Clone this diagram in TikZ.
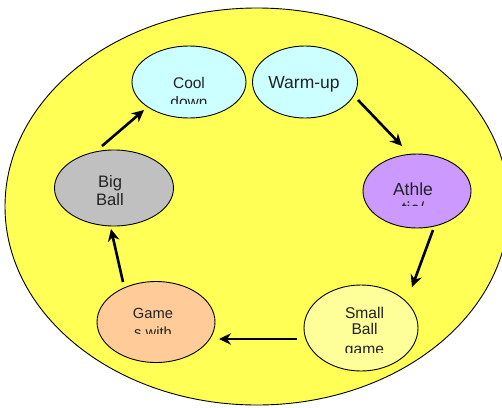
\documentclass[tikz,border=0pt]{standalone}
\usepackage{fontspec}
\setmainfont{Liberation Sans}
\usetikzlibrary{shapes.geometric,arrows.meta}
\definecolor{outerfill}{HTML}{FFFF55}
\definecolor{cyanfill}{HTML}{CCFFFF}
\definecolor{purplefill}{HTML}{CC99FF}
\definecolor{grayfill}{HTML}{C0C0C0}
\definecolor{peachfill}{HTML}{FFCC99}
\definecolor{paleyellow}{HTML}{FFFF99}
\definecolor{txt}{HTML}{222222}
\tikzset{
  stage/.style={ellipse, draw=black, line width=0.9pt, inner sep=0pt},
  lbl/.style={anchor=base, inner sep=0pt, text=txt},
  arr/.style={draw=black, line width=2.6pt, -{Stealth[length=12pt,width=11.5pt]}},
}
\begin{document}
\begin{tikzpicture}[x=1pt,y=-1pt]
\useasboundingbox (0,0) rectangle (502,407);
\clip (0,0) rectangle (502,407);
\fill[white] (0,0) rectangle (502,407);
\node[ellipse, draw=black, line width=0.9pt, fill=outerfill, minimum width=504pt, minimum height=397pt, inner sep=0pt] (outer) at (257,206.5) {};

\node[stage, fill=cyanfill, minimum width=114pt, minimum height=72pt] (cool) at (189,82) {};
\node[stage, fill=cyanfill, minimum width=105pt, minimum height=72pt] (warm) at (305,82) {};
\node[stage, fill=purplefill, minimum width=108pt, minimum height=74pt] (athle) at (417,191) {};
\node[stage, fill=grayfill, minimum width=119pt, minimum height=76pt] (big) at (114,188) {};
\node[stage, fill=peachfill, minimum width=118pt, minimum height=81pt] (game) at (156,322) {};
\node[stage, fill=paleyellow, minimum width=114pt, minimum height=86pt] (small) at (361,328) {};

% labels
\node[lbl, font=\fontsize{15.5}{18}\selectfont] (coolA) at (189,88) {Cool};
\begin{scope}
\clip (120,96) rectangle (260,103);
\node[lbl, font=\fontsize{15.5}{18}\selectfont] (coolB) at (189,107) {down};
\end{scope}

\node[lbl, font=\fontsize{17.5}{20}\selectfont] (warmA) at (304,88) {Warm-up};

\node[lbl, font=\fontsize{17.5}{20}\selectfont] (athleA) at (413,195) {Athle};
\begin{scope}
\clip (360,199) rectangle (470,205);
\node[lbl, font=\fontsize{17.5}{20}\selectfont] (athleB) at (413,214) {tic/};
\end{scope}

\node[lbl, font=\fontsize{16.6}{19}\selectfont] (bigA) at (110,187) {Big};
\node[lbl, font=\fontsize{16.6}{19}\selectfont] (bigB) at (110,205) {Ball};

\node[lbl, font=\fontsize{14.7}{17}\selectfont] (gameA) at (153,318) {Game};
\begin{scope}
\clip (100,324) rectangle (210,333);
\node[lbl, font=\fontsize{14.7}{17}\selectfont] (gameB) at (153,337) {s with};
\end{scope}

\node[lbl, font=\fontsize{15.6}{17}\selectfont] (smallA) at (364.5,318) {Small};
\node[lbl, font=\fontsize{15.6}{17}\selectfont] (smallB) at (364.5,334) {Ball};
\begin{scope}
\clip (310,344) rectangle (420,352);
\node[lbl, font=\fontsize{15.6}{17}\selectfont] (smallC) at (364.5,354) {game};
\end{scope}

% arrow endpoints
\coordinate (w1) at (358,100);  \coordinate (w2) at (402,146);
\coordinate (a1) at (433,230);  \coordinate (a2) at (412,287);
\coordinate (s1) at (297,339);  \coordinate (s2) at (219,339);
\coordinate (g1) at (123,282);  \coordinate (g2) at (111,229);
\coordinate (b1) at (102,146);  \coordinate (b2) at (144,110);

\draw[arr] (w1) -- (w2);
\draw[arr] (a1) -- (a2);
\draw[arr] (s1) -- (s2);
\draw[arr] (g1) -- (g2);
\draw[arr] (b1) -- (b2);
\end{tikzpicture}
\end{document}
